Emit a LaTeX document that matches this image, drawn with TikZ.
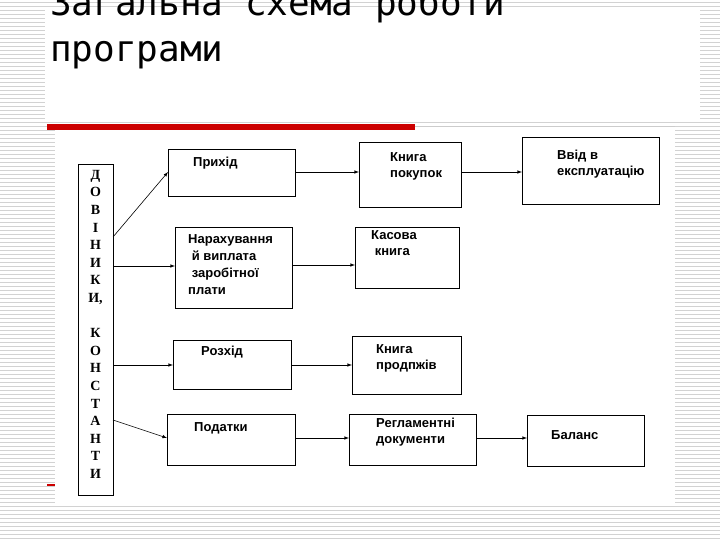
\documentclass[tikz,border=0pt]{standalone}
\usepackage{fontspec}
\setmainfont{Liberation Sans}
\newfontfamily\serifb{Liberation Serif}
\newfontfamily\titlef{DejaVu Sans Mono}
\begin{document}
\begin{tikzpicture}[x=1pt,y=-1pt,
  bx/.style={draw,line width=1pt},
  tx/.style={anchor=north west,inner sep=0pt,font=\fontsize{13}{16}\selectfont\bfseries,align=left},
  ar/.style={-latex,line width=0.6pt}]
\useasboundingbox (0,0) rectangle (720,540);
\fill[white] (0,0) rectangle (720,540);
\foreach \i in {0,...,134} {\draw[gray!35,line width=0.6pt] (0,\i*4+2) -- (720,\i*4+2);}
\fill[white] (45,10) rectangle (700,120);
\node[anchor=base west,inner sep=0pt,align=left,font=\titlef\fontsize{36}{46}\selectfont] (title) at (50,62) {Загальна схема роботи\\програми};
\fill[red!80!black] (47,124) rectangle (415,130);
\draw[gray!40] (415,126) -- (675,126);
\fill[white] (55,130) rectangle (675,505);
\fill[red!80!black] (47,484) rectangle (55,486);
% left box
\draw[bx] (78,165) rectangle (113,495);
\node[anchor=north,inner sep=0pt,align=center,font=\serifb\fontsize{14}{17.6}\selectfont\bfseries] (lt) at (95.5,170)
 {Д\\О\\В\\І\\Н\\И\\К\\И,\\\\К\\О\\Н\\С\\Т\\А\\Н\\Т\\И};
% boxes
\draw[bx] (168,150) rectangle (295,197);
\node[tx] at (193,157) {Прихід};
\draw[bx] (359,143) rectangle (461,208);
\node[tx] at (390,152) {Книга\\покупок};
\draw[bx] (522,138) rectangle (659,205);
\node[tx] at (557,150) {Ввід в\\експлуатацію};
\draw[bx] (175,228) rectangle (292,308);
\node[tx,font=\fontsize{13}{17}\selectfont\bfseries] at (188,234) {Нарахування\\\ й виплата\\\ заробітної\\плати};
\draw[bx] (355,228) rectangle (459,288);
\node[tx] at (371,230) {Касова\\\ книга};
\draw[bx] (173,340) rectangle (291,389);
\node[tx] at (201,346) {Розхід};
\draw[bx] (352,336) rectangle (461,394);
\node[tx] at (376,344) {Книга\\продпжів};
\draw[bx] (167,414) rectangle (295,465);
\node[tx] at (194,422) {Податки};
\draw[bx] (349,414) rectangle (476,465);
\node[tx] at (376,418) {Регламентні\\документи};
\draw[bx] (527,415) rectangle (644,466);
\node[tx] at (551,430) {Баланс};
% arrows
\draw[ar] (113,237) -- (168,172);
\draw[ar] (113,266) -- (175,266);
\draw[ar] (113,365) -- (173,365);
\draw[ar] (113,420) -- (167,438);
\draw[ar] (295,172) -- (359,172);
\draw[ar] (461,172) -- (522,172);
\draw[ar] (292,265) -- (355,265);
\draw[ar] (291,365) -- (352,365);
\draw[ar] (295,438) -- (349,438);
\draw[ar] (476,438) -- (527,438);
\end{tikzpicture}
\end{document}
